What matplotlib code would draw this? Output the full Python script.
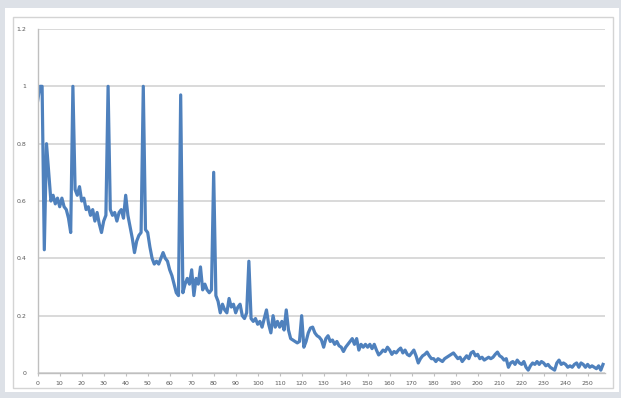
import matplotlib.pyplot as plt
from matplotlib.patches import Rectangle

# series values, one per x step (0..257)
values = [
    0.95, 1.0, 1.0, 0.43, 0.80, 0.70, 0.60, 0.62, 0.59, 0.61,
    0.58, 0.61, 0.58, 0.57, 0.54, 0.49, 1.0, 0.64, 0.62, 0.65,
    0.60, 0.61, 0.57, 0.58, 0.55, 0.57, 0.53, 0.56, 0.52, 0.49,
    0.53, 0.55, 1.0, 0.57, 0.55, 0.56, 0.53, 0.56, 0.57, 0.54,
    0.62, 0.55, 0.51, 0.47, 0.42, 0.46, 0.48, 0.49, 1.0, 0.50,
    0.49, 0.44, 0.40, 0.38, 0.39, 0.38, 0.40, 0.42, 0.40, 0.39,
    0.36, 0.34, 0.31, 0.28, 0.27, 0.97, 0.28, 0.31, 0.33, 0.31,
    0.36, 0.27, 0.33, 0.31, 0.37, 0.29, 0.31, 0.29, 0.28, 0.29,
    0.70, 0.27, 0.25, 0.21, 0.24, 0.22, 0.21, 0.26, 0.23, 0.24,
    0.21, 0.23, 0.24, 0.20, 0.19, 0.21, 0.39, 0.19, 0.18, 0.19,
    0.17, 0.18, 0.16, 0.19, 0.22, 0.17, 0.14, 0.20, 0.16, 0.18,
    0.16, 0.18, 0.15, 0.22, 0.15, 0.12, 0.115, 0.11, 0.105, 0.11,
    0.20, 0.09, 0.11, 0.14, 0.157, 0.16, 0.14, 0.13, 0.125, 0.115,
    0.09, 0.12, 0.13, 0.11, 0.115, 0.10, 0.11, 0.095, 0.09, 0.075,
    0.09, 0.10, 0.11, 0.12, 0.10, 0.12, 0.08, 0.10, 0.09, 0.10,
    0.09, 0.10, 0.085, 0.10, 0.08, 0.063, 0.07, 0.08, 0.075, 0.09,
    0.08, 0.065, 0.075, 0.07, 0.08, 0.087, 0.07, 0.08, 0.065, 0.06,
    0.07, 0.08, 0.06, 0.035, 0.05, 0.06, 0.065, 0.073, 0.06, 0.05,
    0.05, 0.04, 0.05, 0.045, 0.04, 0.05, 0.055, 0.06, 0.065, 0.07,
    0.06, 0.05, 0.055, 0.04, 0.05, 0.06, 0.05, 0.07, 0.075, 0.06,
    0.065, 0.05, 0.055, 0.045, 0.05, 0.055, 0.05, 0.055, 0.065, 0.073,
    0.06, 0.055, 0.045, 0.05, 0.02, 0.035, 0.04, 0.03, 0.045, 0.035,
    0.03, 0.04, 0.02, 0.01, 0.025, 0.035, 0.03, 0.04, 0.03, 0.04,
    0.035, 0.025, 0.03, 0.02, 0.015, 0.01, 0.035, 0.045, 0.03, 0.035,
    0.03, 0.02, 0.025, 0.02, 0.03, 0.035, 0.02, 0.035, 0.03, 0.02,
    0.03, 0.02, 0.025, 0.02, 0.015, 0.025, 0.01, 0.03,
]
steps = list(range(len(values)))

x_ticks = list(range(0, 251, 10))
y_ticks = [0, 0.2, 0.4, 0.6, 0.8, 1.0, 1.2]
y_labels = ['0', '0.2', '0.4', '0.6', '0.8', '1', '1.2']

W, H = 621, 398
fig = plt.figure(figsize=(W / 100, H / 100), dpi=100, facecolor='#dde1e7')

# white chart panel and its inner border
fig.add_artist(Rectangle((5 / W, 1 - 392 / H), 614 / W, 384 / H,
                         transform=fig.transFigure, facecolor='white',
                         edgecolor='none', zorder=0))
fig.add_artist(Rectangle((13 / W, 1 - 388 / H), 600 / W, 371 / H,
                         transform=fig.transFigure, facecolor='none',
                         edgecolor='#d4d4d4', linewidth=1.0, zorder=1))

ax = fig.add_axes([37.7 / W, 1 - 373 / H, (605 - 37.7) / W, (373 - 29) / H])
ax.set_facecolor('none')

ax.plot(steps, values, color='#4f81bd', linewidth=2.3, solid_joinstyle='round')

ax.set_xlim(0, 257.9)
ax.set_ylim(0, 1.2)
ax.set_xticks(x_ticks)
ax.set_xticklabels([str(t) for t in x_ticks])
ax.set_yticks(y_ticks)
ax.set_yticklabels(y_labels)

ax.grid(True, axis='y', color='#d9d9d9', linewidth=1.4)
ax.set_axisbelow(True)
for side in ['top', 'right']:
    ax.spines[side].set_visible(False)
ax.spines['left'].set_color('#bfbfbf')
ax.spines['bottom'].set_color('#bfbfbf')
ax.spines['left'].set_linewidth(1.0)
ax.spines['bottom'].set_linewidth(1.0)

ax.tick_params(axis='x', length=2.5, width=0.8, color='#bfbfbf',
               labelsize=4.5, labelcolor='#595959', pad=3)
ax.tick_params(axis='y', length=0, labelsize=4.5, labelcolor='#595959', pad=8)

fig.savefig('out.png', dpi=100, facecolor=fig.get_facecolor())
